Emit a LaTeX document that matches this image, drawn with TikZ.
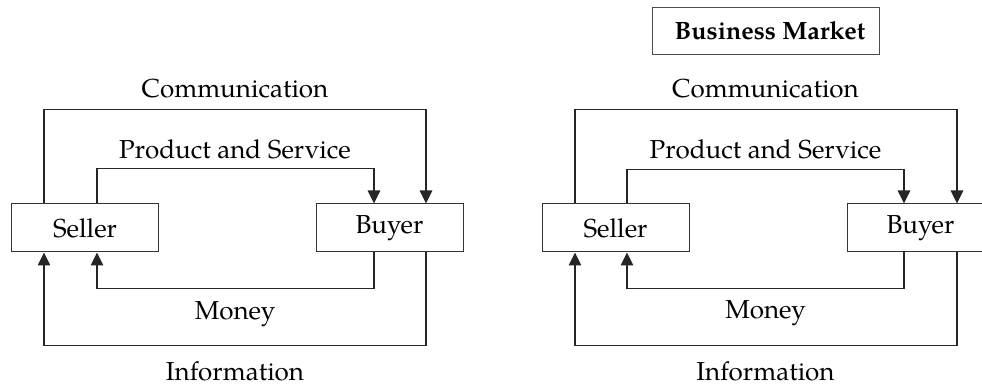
\documentclass[tikz,border=0pt]{standalone}
\usepackage{fontspec}
\setmainfont{TeX Gyre Pagella}
\usetikzlibrary{arrows.meta,calc}
\begin{document}
\begin{tikzpicture}[x=1pt,y=-1pt,
  box/.style={draw=black!80,line width=1pt,minimum width=147pt,minimum height=48pt,inner sep=0pt,font=\fontsize{26}{30}\selectfont},
  lbl/.style={anchor=base,inner sep=0pt,font=\fontsize{26}{30}\selectfont},
  flow/.style={draw=black!85,line width=1.1pt,-{Triangle[width=12.5pt,length=13pt]}},
  titlebox/.style={draw=black!70,line width=0.9pt,minimum width=227pt,minimum height=47pt,inner sep=0pt,font=\bfseries\fontsize{25}{29}\selectfont}]
\useasboundingbox (0,0) rectangle (982,387);
\clip (0,0) rectangle (982,387);
% left diagram
\node[box] (s1) at (85,228) {Seller};
\node[box] (b1) at (389.5,228) {Buyer};
\node[lbl] (c1) at (235,97.5) {Communication};
\node[lbl] (p1) at (235,159) {Product and Service};
\node[lbl] (m1) at (235,319) {Money};
\node[lbl] (i1) at (235,380) {Information};
\draw[flow] ([xshift=-41pt]s1.north) -- ++(0,-94) -| ([xshift=36.5pt]b1.north);
\draw[flow] ([xshift=12pt]s1.north) -- ++(0,-35) -| ([xshift=-15.5pt]b1.north);
\draw[flow] ([xshift=-15.5pt]b1.south) -- ++(0,36) -| ([xshift=12pt]s1.south);
\draw[flow] ([xshift=36.5pt]b1.south) -- ++(0,93) -| ([xshift=-41pt]s1.south);
% right diagram
\node[titlebox] (bm) at (765.5,30.5) {\hspace*{9pt}Business Market};
\node[box] (s2) at (615.5,228) {Seller};
\node[box] (b2) at (920.5,228) {Buyer};
\node[lbl] (c2) at (765.5,97.3) {Communication};
\node[lbl] (p2) at (765.5,159) {Product and Service};
\node[lbl] (m2) at (765.5,318) {Money};
\node[lbl] (i2) at (765.5,380) {Information};
\draw[flow] ([xshift=-40.5pt]s2.north) -- ++(0,-94) -| ([xshift=36.5pt]b2.north);
\draw[flow] ([xshift=11.5pt]s2.north) -- ++(0,-34) -| ([xshift=-16.5pt]b2.north);
\draw[flow] ([xshift=-16.5pt]b2.south) -- ++(0,36) -| ([xshift=11.5pt]s2.south);
\draw[flow] ([xshift=36.5pt]b2.south) -- ++(0,93) -| ([xshift=-40.5pt]s2.south);
\end{tikzpicture}
\end{document}
